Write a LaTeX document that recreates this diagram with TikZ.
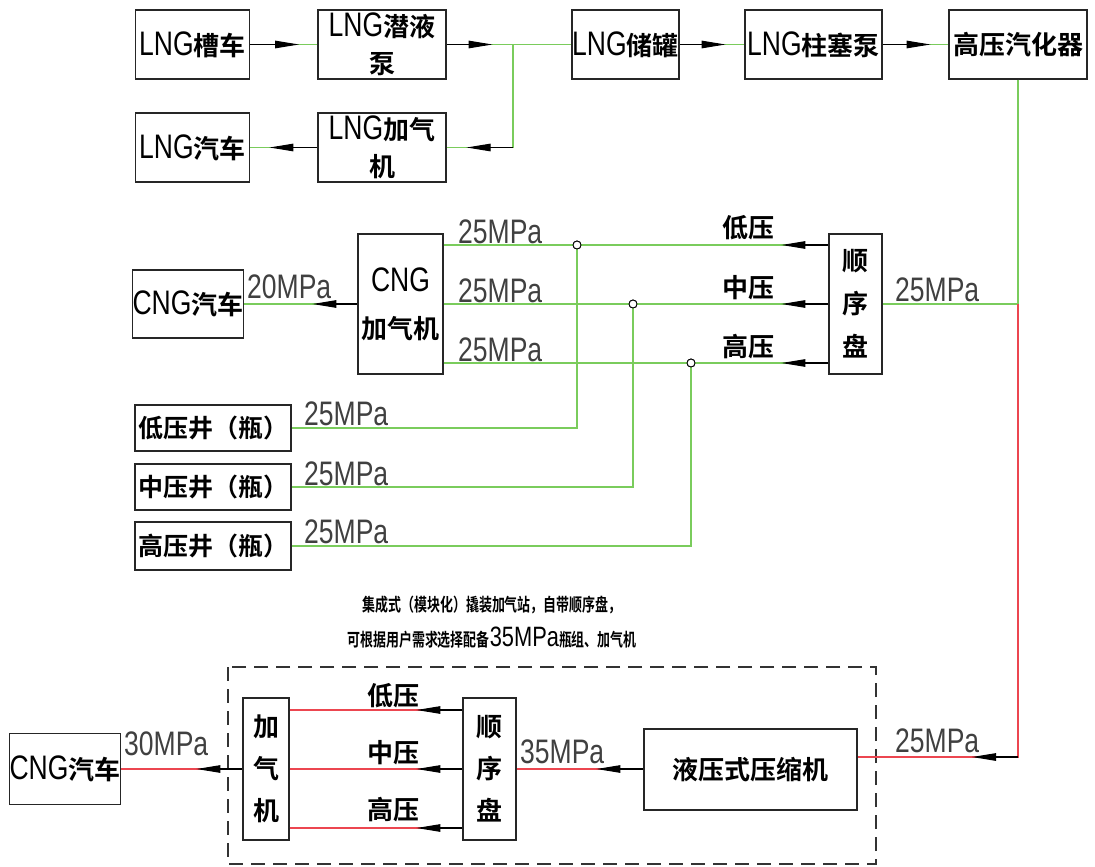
\documentclass[tikz,border=0pt]{standalone}
\usepackage{fontspec}
\usetikzlibrary{arrows.meta,calc}
\newfontfamily\latf[FakeStretch=0.78]{Liberation Sans}
\newfontfamily\cjkb{Noto Sans CJK SC Bold}
\newfontfamily\cjks[FakeStretch=0.72]{Noto Sans CJK SC Bold}
\newcommand{\tL}[1]{{\latf\fontsize{34}{34}\selectfont #1}}
\newcommand{\tZ}[1]{{\cjkb\fontsize{26}{26}\selectfont #1}}
\newcommand{\tW}[1]{{\cjkb\fontsize{25}{25}\selectfont #1}}
\newcommand{\tS}[1]{{\cjks\fontsize{18}{18}\selectfont #1}}
\definecolor{lgreen}{RGB}{122,204,92}
\definecolor{lred}{RGB}{236,70,80}
\tikzset{
  box/.style={draw=black!85, line width=1.1pt, inner sep=0pt, align=center},
  gl/.style={draw=lgreen, line width=1.3pt},
  rl/.style={draw=lred, line width=1.3pt},
  bl/.style={draw=black, line width=1.1pt, -{Triangle[length=24pt,width=7.5pt]}},
  valve/.style={circle, draw=black, fill=white, line width=0.9pt, minimum size=8pt, inner sep=0pt},
  lbl/.style={inner sep=0pt, anchor=base west, text=black!75},
  zlbl/.style={inner sep=0pt, anchor=center},
  frame/.style={draw=black!80, line width=1.2pt, dash pattern=on 14pt off 8pt}
}
\begin{document}
\begin{tikzpicture}[x=1pt,y=-1pt]
\useasboundingbox (0,0) rectangle (1095,867);
\fill[white] (0,0) rectangle (1095,867);

% ---------- LNG part ----------
\node[box, minimum width=114pt, minimum height=69pt] (cart) at (192.5,44.5) {\tL{LNG}\tZ{槽车}};
\node[box, minimum width=128pt, minimum height=69pt, font=\fontsize{26}{37}\selectfont] (pump) at (382,44.5) {\tL{LNG}\tZ{潜液}\\\tZ{泵}};
\node[box, minimum width=107pt, minimum height=69pt] (tank) at (625.5,44.5) {\tL{LNG}\tZ{储罐}};
\node[box, minimum width=137pt, minimum height=69pt] (plunger) at (813.5,44.5) {\tL{LNG}\tZ{柱塞泵}};
\node[box, minimum width=138pt, minimum height=69pt] (vapor) at (1018,44.5) {\tZ{高压汽化器}};
\node[box, minimum width=114pt, minimum height=69pt] (lngveh) at (192.5,147.5) {\tL{LNG}\tZ{汽车}};
\node[box, minimum width=128pt, minimum height=69pt, font=\fontsize{26}{37}\selectfont] (lngdisp) at (382,147.5) {\tL{LNG}\tZ{加气}\\\tZ{机}};

\coordinate (j1) at (513,44.5);
\coordinate (j2) at (513,147.5);

\draw[gl] (cart.east) -- (pump.west);
\draw[bl] (cart.east) -- ($(cart.east)+(49,0)$);
\draw[gl] (pump.east) -- (tank.west);
\draw[bl] (pump.east) -- ($(pump.east)+(46,0)$);
\draw[gl] (j1) -- (j2) -- (lngdisp.east);
\draw[bl] (j2) -- ($(lngdisp.east)+(20,0)$);
\draw[gl] (lngdisp.west) -- (lngveh.east);
\draw[bl] (lngdisp.west) -- ($(lngdisp.west)+(-48,0)$);
\draw[gl] (tank.east) -- (plunger.west);
\draw[bl] (tank.east) -- ($(tank.east)+(46,0)$);
\draw[gl] (plunger.east) -- (vapor.west);
\draw[bl] (plunger.east) -- ($(plunger.east)+(48,0)$);

% ---------- CNG middle part ----------
\node[box, minimum width=106pt, minimum height=68pt] (cngveh) at (188,304) {\tL{CNG}\tZ{汽车}};
\node[box, minimum width=85pt, minimum height=140pt, font=\fontsize{26}{47}\selectfont] (cngdisp) at (400.5,304) {\tL{CNG}\\\tZ{加气机}};
\node[box, minimum width=53pt, minimum height=140pt, font=\fontsize{26}{43}\selectfont] (seq) at (855.5,304) {\tZ{顺}\\\tZ{序}\\\tZ{盘}};

\coordinate (yL) at (0,245);
\coordinate (yM) at (0,304);
\coordinate (yH) at (0,363);
\coordinate (k1) at (1018,304);
\coordinate (k2) at (1018,757);

\node[box, minimum width=156pt, minimum height=46pt] (wellL) at (213,428) {\tW{低压井（瓶）}};
\node[box, minimum width=156pt, minimum height=46pt] (wellM) at (213,487) {\tW{中压井（瓶）}};
\node[box, minimum width=156pt, minimum height=48pt] (wellH) at (213,546) {\tW{高压井（瓶）}};

\node[valve] (vL) at (577,245) {};
\node[valve] (vM) at (633,304) {};
\node[valve] (vH) at (691,363) {};

\draw[gl] (vL.south) -- (vL |- wellL.east) -- (wellL.east);
\draw[gl] (vM.south) -- (vM |- wellM.east) -- (wellM.east);
\draw[gl] (vH.south) -- (vH |- wellH.east) -- (wellH.east);

\draw[gl] (cngdisp.east |- yL) -- (seq.west |- yL);
\draw[gl] (cngdisp.east |- yM) -- (seq.west |- yM);
\draw[gl] (cngdisp.east |- yH) -- (seq.west |- yH);
\draw[bl] (seq.west |- yL) -- ($(seq.west |- yL)+(-47,0)$);
\draw[bl] (seq.west |- yM) -- ($(seq.west |- yM)+(-47,0)$);
\draw[bl] (seq.west |- yH) -- ($(seq.west |- yH)+(-47,0)$);
\node[valve] at (vL) {};
\node[valve] at (vM) {};
\node[valve] at (vH) {};

\draw[gl] (cngdisp.west) -- (cngveh.east);
\draw[bl] (cngdisp.west) -- ($(cngdisp.west)+(-45,0)$);

\draw[gl] (vapor.south) -- (k1) -- (seq.east);

\node[lbl] at (458,243) {\tL{25MPa}};
\node[lbl] at (458,302) {\tL{25MPa}};
\node[lbl] at (458,361) {\tL{25MPa}};
\node[lbl] at (247,298) {\tL{20MPa}};
\node[lbl] at (895,301) {\tL{25MPa}};
\node[zlbl] at (748,228) {\tZ{低压}};
\node[zlbl] at (748,288) {\tZ{中压}};
\node[zlbl] at (748,347) {\tZ{高压}};
\node[lbl] at (304,425) {\tL{25MPa}};
\node[lbl] at (304,485) {\tL{25MPa}};
\node[lbl] at (304,543) {\tL{25MPa}};

% ---------- bottom skid station ----------
\node[inner sep=0pt] (note1) at (492,605) {\tS{集成式（模块化）撬装加气站，自带顺序盘，}};
\node[inner sep=0pt] (note2) at (492,638) {\tS{可根据用户需求选择配备}{\latf\fontsize{28}{28}\selectfont 35MPa}\tS{瓶组、加气机}};

\draw[frame] (228,667) rectangle (876,864);

\node[box, minimum width=106pt, minimum height=71pt] (cngveh2) at (65,769) {\tL{CNG}\tZ{汽车}};
\node[box, minimum width=46pt, minimum height=142pt, font=\fontsize{26}{42}\selectfont] (disp2) at (266,769) {\tZ{加}\\\tZ{气}\\\tZ{机}};
\node[box, minimum width=53pt, minimum height=142pt, font=\fontsize{26}{42}\selectfont] (seq2) at (489.5,769) {\tZ{顺}\\\tZ{序}\\\tZ{盘}};
\node[box, minimum width=213pt, minimum height=81pt] (comp) at (750.5,769.5) {\tZ{液压式压缩机}};

\coordinate (zL) at (0,710);
\coordinate (zM) at (0,769);
\coordinate (zH) at (0,828);

\draw[rl] (disp2.east |- zL) -- (seq2.west |- zL);
\draw[rl] (disp2.east |- zM) -- (seq2.west |- zM);
\draw[rl] (disp2.east |- zH) -- (seq2.west |- zH);
\draw[bl] (seq2.west |- zL) -- ($(seq2.west |- zL)+(-46,0)$);
\draw[bl] (seq2.west |- zM) -- ($(seq2.west |- zM)+(-46,0)$);
\draw[bl] (seq2.west |- zH) -- ($(seq2.west |- zH)+(-46,0)$);

\draw[rl] (disp2.west) -- (cngveh2.east);
\draw[bl] (disp2.west) -- ($(disp2.west)+(-46,0)$);
\draw[rl] (comp.west |- zM) -- (seq2.east |- zM);
\draw[bl] (comp.west |- zM) -- ($(comp.west |- zM)+(-47,0)$);
\draw[rl] (k1) -- (k2) -- (comp.east |- k2);
\draw[bl] (k2) -- ($(k2)+(-46,0)$);

\node[zlbl] at (393,696) {\tZ{低压}};
\node[zlbl] at (393,753) {\tZ{中压}};
\node[zlbl] at (393,810) {\tZ{高压}};
\node[lbl] at (124,755) {\tL{30MPa}};
\node[lbl] at (520,763) {\tL{35MPa}};
\node[lbl] at (895,752) {\tL{25MPa}};
\end{tikzpicture}
\end{document}
